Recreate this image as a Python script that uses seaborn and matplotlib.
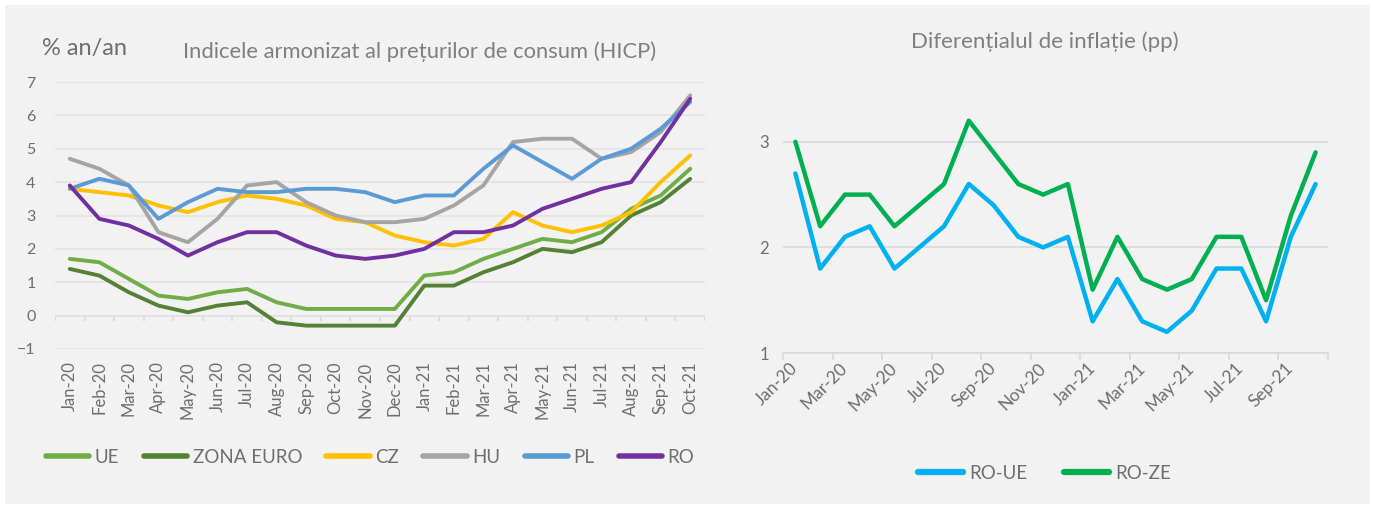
import matplotlib as mpl
import matplotlib.pyplot as plt
import numpy as np
import pandas as pd
import seaborn as sns
from matplotlib.patches import Rectangle

mpl.use("Agg")

# Months shown on both charts
months = [
    "Jan-20", "Feb-20", "Mar-20", "Apr-20", "May-20", "Jun-20", "Jul-20", "Aug-20",
    "Sep-20", "Oct-20", "Nov-20", "Dec-20", "Jan-21", "Feb-21", "Mar-21", "Apr-21",
    "May-21", "Jun-21", "Jul-21", "Aug-21", "Sep-21", "Oct-21",
]

# Left chart: HICP, % y/y
ue = [1.7, 1.6, 1.1, 0.6, 0.5, 0.7, 0.8, 0.4, 0.2, 0.2, 0.2, 0.2,
      1.2, 1.3, 1.7, 2.0, 2.3, 2.2, 2.5, 3.2, 3.6, 4.4]
zona_euro = [1.4, 1.2, 0.7, 0.3, 0.1, 0.3, 0.4, -0.2, -0.3, -0.3, -0.3, -0.3,
             0.9, 0.9, 1.3, 1.6, 2.0, 1.9, 2.2, 3.0, 3.4, 4.1]
cz = [3.8, 3.7, 3.6, 3.3, 3.1, 3.4, 3.6, 3.5, 3.3, 2.9, 2.8, 2.4,
      2.2, 2.1, 2.3, 3.1, 2.7, 2.5, 2.7, 3.1, 4.0, 4.8]
hu = [4.7, 4.4, 3.9, 2.5, 2.2, 2.9, 3.9, 4.0, 3.4, 3.0, 2.8, 2.8,
      2.9, 3.3, 3.9, 5.2, 5.3, 5.3, 4.7, 4.9, 5.5, 6.6]
pl = [3.8, 4.1, 3.9, 2.9, 3.4, 3.8, 3.7, 3.7, 3.8, 3.8, 3.7, 3.4,
      3.6, 3.6, 4.4, 5.1, 4.6, 4.1, 4.7, 5.0, 5.6, 6.4]
ro = [3.9, 2.9, 2.7, 2.3, 1.8, 2.2, 2.5, 2.5, 2.1, 1.8, 1.7, 1.8,
      2.0, 2.5, 2.5, 2.7, 3.2, 3.5, 3.8, 4.0, 5.2, 6.5]

# Right chart: inflation differential, pp
ro_ue = [2.7, 1.8, 2.1, 2.2, 1.8, 2.0, 2.2, 2.6, 2.4, 2.1, 2.0, 2.1,
         1.3, 1.7, 1.3, 1.2, 1.4, 1.8, 1.8, 1.3, 2.1, 2.6]
ro_ze = [3.0, 2.2, 2.5, 2.5, 2.2, 2.4, 2.6, 3.2, 2.9, 2.6, 2.5, 2.6,
         1.6, 2.1, 1.7, 1.6, 1.7, 2.1, 2.1, 1.5, 2.3, 2.9]

left_series = {"UE": ue, "ZONA EURO": zona_euro, "CZ": cz, "HU": hu, "PL": pl, "RO": ro}
left_colors = ["#70AD47", "#548235", "#FFC000", "#A5A5A5", "#5B9BD5", "#7030A0"]
right_series = {"RO-UE": ro_ue, "RO-ZE": ro_ze}
right_colors = ["#00B0F0", "#00B050"]

TEXT = "#6E6E6E"
TITLE = "#7F7F7F"


def to_long(series: dict) -> pd.DataFrame:
    """Stack named series into long form with a month index."""
    frames = []
    for name, vals in series.items():
        frames.append(pd.DataFrame({"idx": np.arange(len(months)), "value": vals, "series": name}))
    return pd.concat(frames, ignore_index=True)


sns.set_theme(style="white")
plt.rcParams["font.family"] = ["Lato", "DejaVu Sans"]

W, H = 1374, 508
fig = plt.figure(figsize=(W / 100, H / 100), dpi=100, facecolor="white")
fig.patches.append(
    Rectangle((5 / W, 4 / H), 1365 / W, 499 / H, transform=fig.transFigure,
              facecolor="#F2F2F2", edgecolor="none", zorder=-10)
)


def px_axes(x0, y0, x1, y1):
    """Axes from pixel box (top-left origin)."""
    return fig.add_axes([x0 / W, 1 - y1 / H, (x1 - x0) / W, (y1 - y0) / H])


n = len(months)

# ---- Left chart ----
ax1 = px_axes(55, 82, 705, 349)
ax1.set_facecolor("none")
sns.lineplot(data=to_long(left_series), x="idx", y="value", hue="series",
             palette=left_colors, linewidth=2.8, ax=ax1)
ax1.set_xlim(-0.5, n - 0.5)
ax1.set_ylim(-1, 7)
ax1.set_yticks(range(-1, 8))
ax1.yaxis.grid(True, color="#E3E3E3", linewidth=1.2)
ax1.set_axisbelow(True)
for s in ax1.spines.values():
    s.set_visible(False)
ax1.axhline(0, color="#D9D9D9", linewidth=1.2, zorder=0.5)
ax1.vlines(np.arange(n + 1) - 0.5, -0.15, 0, color="#D9D9D9", linewidth=1.2, zorder=0.5)
ax1.set_xticks(range(n))
ax1.set_xticklabels(months, rotation=90, fontsize=12, color=TEXT)
ax1.tick_params(axis="x", length=0, pad=9)
ax1.tick_params(axis="y", length=0, pad=14, labelsize=11.5, labelcolor=TEXT)
ax1.set_xlabel("")
ax1.set_ylabel("")
fig.text(42 / W, 1 - 48 / H, "% an/an", fontsize=17, color=TEXT, va="center", ha="left")
fig.text(420 / W, 1 - 52 / H, "Indicele armonizat al prețurilor de consum (HICP)",
         fontsize=15.8, color=TITLE, va="center", ha="center")
sns.move_legend(ax1, "center", bbox_to_anchor=(0.485, -0.405), ncol=6, frameon=False,
                title=None, fontsize=13.5, handlelength=2.3, handletextpad=0.3,
                columnspacing=1.3, labelcolor=TEXT)
for h in ax1.get_legend().legend_handles:
    h.set_linewidth(4)

# ---- Right chart ----
ax2 = px_axes(783, 89, 1328, 353)
ax2.set_facecolor("none")
sns.lineplot(data=to_long(right_series), x="idx", y="value", hue="series",
             palette=right_colors, linewidth=3.2, ax=ax2)
ax2.set_xlim(-0.5, n - 0.5)
ax2.set_ylim(1, 3.5)
ax2.set_yticks([1, 2, 3])
ax2.yaxis.grid(True, color="#D9D9D9", linewidth=1.2)
ax2.set_axisbelow(True)
for name, s in ax2.spines.items():
    s.set_visible(name == "bottom")
ax2.spines["bottom"].set_color("#D9D9D9")
ax2.spines["bottom"].set_linewidth(1.2)
ax2.set_xticks(range(0, n, 2))
ax2.set_xticklabels(months[::2], rotation=45, ha="right", va="center",
                    rotation_mode="anchor", fontsize=12.5, color=TEXT)
ax2.set_xticks(np.arange(0, n + 1, 2) - 0.5, minor=True)
ax2.tick_params(axis="x", which="major", length=0, pad=9)
ax2.tick_params(axis="x", which="minor", length=5, width=1.2, color="#D9D9D9", bottom=True)
ax2.tick_params(axis="y", length=0, pad=10, labelsize=12, labelcolor=TEXT)
ax2.set_xlabel("")
ax2.set_ylabel("")
fig.text(1045 / W, 1 - 42 / H, "Diferențialul de inflație (pp)",
         fontsize=16, color=TITLE, va="center", ha="center")
sns.move_legend(ax2, "center", bbox_to_anchor=(0.48, -0.455), ncol=2, frameon=False,
                title=None, fontsize=13.5, handlelength=2.4, handletextpad=0.3,
                columnspacing=2.0, labelcolor=TEXT)
for h in ax2.get_legend().legend_handles:
    h.set_linewidth(4.5)

fig.savefig("out.png", dpi=100, facecolor="white")
